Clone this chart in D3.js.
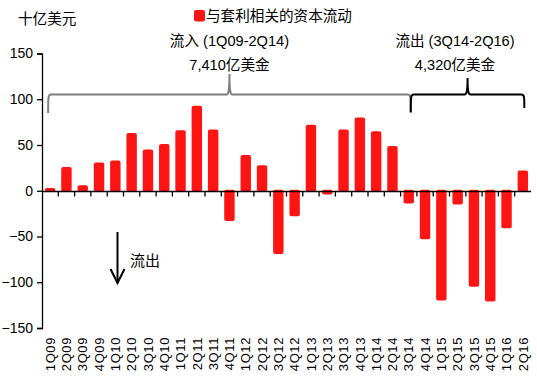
<!DOCTYPE html>
<html><head><meta charset="utf-8">
<script src="https://cdn.jsdelivr.net/npm/d3@7"></script>
<style>
body{margin:0;background:#fff;}
text{font-family:"Liberation Sans",Arial,"Noto Sans CJK SC",sans-serif;fill:#000;}
</style></head>
<body><svg id="c" width="537" height="382"></svg>
<script>
const categories = ["1Q09","2Q09","3Q09","4Q09","1Q10","2Q10","3Q10","4Q10","1Q11","2Q11","3Q11","4Q11","1Q12","2Q12","3Q12","4Q12","1Q13","2Q13","3Q13","4Q13","1Q14","2Q14","3Q14","4Q14","1Q15","2Q15","3Q15","4Q15","1Q16","2Q16"];
const values = [3,26,6,31,33,63,45,51,66,93,67,-33,39,28,-69,-28,72,-4,67,80,65,49,-14,-53,-120,-15,-105,-121,-41,22];
const yTicks = [150,100,50,0,-50,-100,-150];
const unitLabel = "十亿美元";
const legendLabel = "与套利相关的资本流动";
const inflowLabel = ["流入 (1Q09-2Q14)","7,410亿美金"];
const outflowLabel = ["流出 (3Q14-2Q16)","4,320亿美金"];
const arrowLabel = "流出";

const svg = d3.select("#c");
const x = d3.scaleBand().domain(categories).range([42,531]).paddingInner(0.36).paddingOuter(0.18);
const y = d3.scaleLinear().domain([-150,150]).range([328,53.5]);
const red = "#ff1414";
const cx = d => x(d) + x.bandwidth()/2;

// bars
svg.append("g").selectAll("rect").data(values).join("rect")
  .attr("x",(d,i)=>x(categories[i]))
  .attr("width",x.bandwidth())
  .attr("y",d=>d>=0?y(d):y(0)-1)
  .attr("height",d=>Math.abs(y(d)-y(0))+1)
  .attr("rx",2).attr("fill",red);

// y axis
const ya = svg.append("g").attr("transform","translate(42,0)")
  .call(d3.axisLeft(y).tickValues(yTicks).tickSize(5).tickPadding(4));
ya.select(".domain").attr("stroke","#000").attr("stroke-width",1.3);
ya.selectAll(".tick line").attr("stroke","#000").attr("stroke-width",1.3);
ya.selectAll(".tick text").attr("font-size","14px").attr("font-family","Liberation Sans, Arial, sans-serif");

// x axis (zero line) with ticks between categories
const y0 = Math.round(y(0))+0.5;
svg.append("line").attr("x1",42).attr("x2",531).attr("y1",y0).attr("y2",y0).attr("stroke","#000").attr("stroke-width",1.5);
const step = x.step();
svg.append("g").selectAll("line").data(categories.slice(1)).join("line")
  .attr("x1",d=>x(d)-(step-x.bandwidth())/2).attr("x2",d=>x(d)-(step-x.bandwidth())/2)
  .attr("y1",y0).attr("y2",y0+5).attr("stroke","#000").attr("stroke-width",1.3);

// category labels
svg.append("g").selectAll("text").data(categories).join("text")
  .attr("transform",d=>`translate(${cx(d)},337) rotate(-90)`)
  .attr("text-anchor","end").attr("dy","0.36em")
  .attr("font-size","13px").attr("letter-spacing","0.6px")
  .text(d=>d);

// title & legend
svg.append("text").attr("x",18).attr("y",24).attr("font-size","14.6px").text(unitLabel);
svg.append("rect").attr("x",194).attr("y",10).attr("width",11).attr("height",11.5).attr("rx",2).attr("fill",red);
svg.append("text").attr("x",206).attr("y",21).attr("font-size","14.6px").text(legendLabel);

// braces
function brace(x0,x1,xt,yh,ytop,yl,yr){
  const r=3;
  return `M${x0},${yl} C${x0},${yh+2} ${x0},${yh} ${x0+r},${yh} L${xt-r},${yh} C${xt-1},${yh} ${xt},${yh-3} ${xt},${ytop} C${xt},${yh-3} ${xt+1},${yh} ${xt+r},${yh} L${x1-r},${yh} C${x1},${yh} ${x1},${yh+2} ${x1},${yr}`;
}
const bx0 = cx("1Q09") - 2;
const bx1 = cx("3Q14") + 2;
const bx2 = cx("2Q16") + 1.5;
svg.append("path").attr("d",brace(bx0,bx1,(bx0+bx1)/2,94.5,74,113,113))
  .attr("fill","none").attr("stroke","#7f7f7f").attr("stroke-width",2);
svg.append("path").attr("d",brace(bx1,bx2,(bx1+bx2)/2,94.5,78,112,108))
  .attr("fill","none").attr("stroke","#000").attr("stroke-width",2);

svg.append("text").attr("x",(bx0+bx1)/2).attr("y",46).attr("text-anchor","middle").attr("font-size","14.6px").text(inflowLabel[0]);
svg.append("text").attr("x",(bx0+bx1)/2).attr("y",70).attr("text-anchor","middle").attr("font-size","14.6px").text(inflowLabel[1]);
svg.append("text").attr("x",455).attr("y",46).attr("text-anchor","middle").attr("font-size","14.6px").text(outflowLabel[0]);
svg.append("text").attr("x",455).attr("y",70).attr("text-anchor","middle").attr("font-size","14.6px").text(outflowLabel[1]);

// arrow
svg.append("line").attr("x1",117.5).attr("x2",117.5).attr("y1",232).attr("y2",283).attr("stroke","#000").attr("stroke-width",2);
svg.append("path").attr("d","M110.5,269 L117.5,283 L124.5,269").attr("fill","none").attr("stroke","#000").attr("stroke-width",2);
svg.append("text").attr("x",130).attr("y",266).attr("font-size","15px").text(arrowLabel);
</script></body></html>
